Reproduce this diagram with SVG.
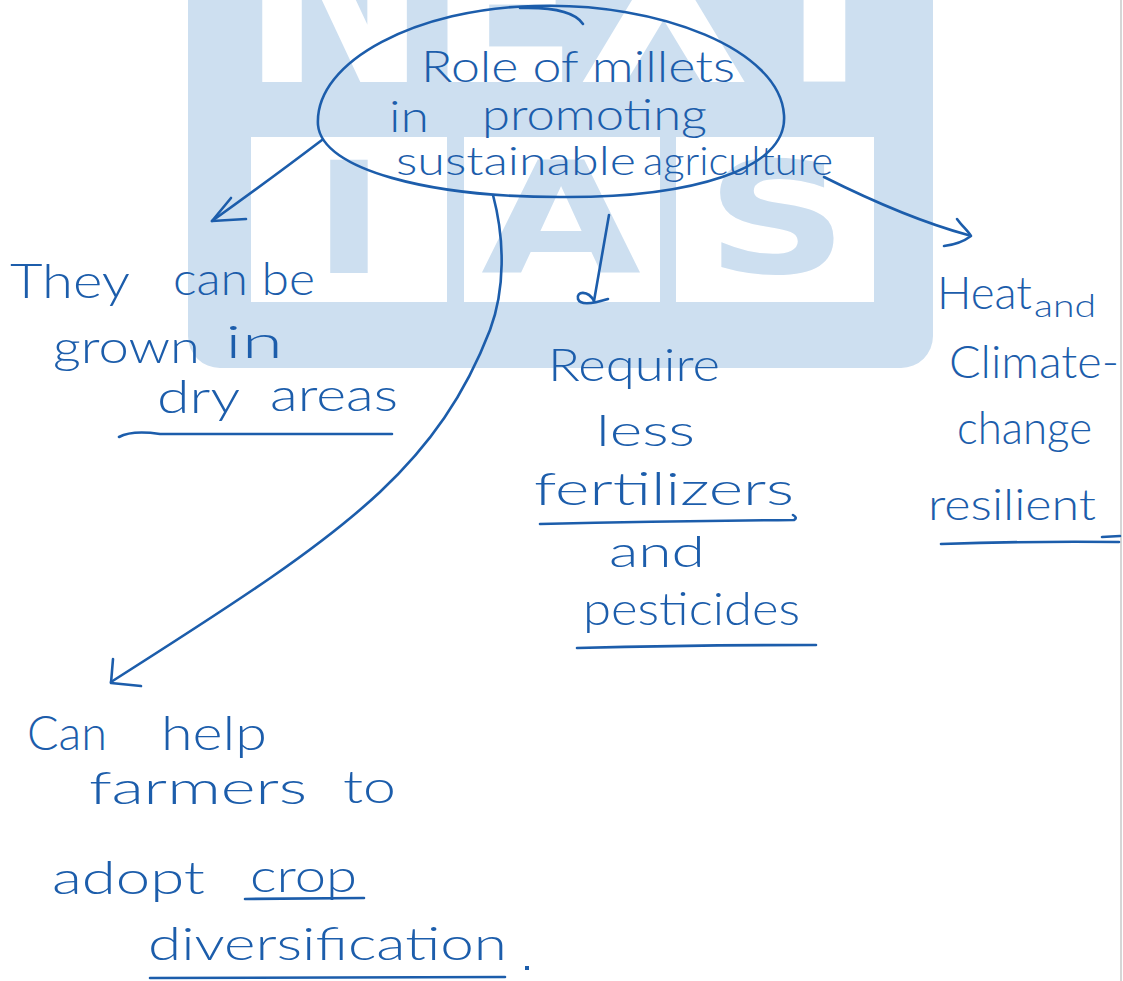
<svg xmlns="http://www.w3.org/2000/svg" width="1123" height="981" viewBox="0 0 1123 981">
  <style>
    .ink { fill: #1c5dab; font-family: Lato, "Open Sans", "Liberation Sans", sans-serif; font-weight: 300; }
    .pen { fill: none; stroke: #1c5dab; stroke-width: 2.6; stroke-linecap: round; stroke-linejoin: round; }
    .wm-white { fill: #ffffff; font-family: "DejaVu Sans", sans-serif; font-weight: bold; }
    .wm-blue { fill: #cddff0; font-family: "DejaVu Sans", sans-serif; font-weight: bold; }
  </style>

  <rect x="0" y="0" width="1123" height="981" fill="#ffffff"/>
  <line x1="1121" y1="0" x2="1121" y2="981" stroke="#c9c9c9" stroke-width="1.5"/>

  <!-- background logo -->
  <g id="watermark">
    <rect x="188" y="-40" width="745" height="408" rx="32" fill="#cddff0"/>
    <text class="wm-white" x="242" y="82" font-size="250" textLength="658" lengthAdjust="spacingAndGlyphs">NEXT</text>
    <rect x="251" y="137" width="196" height="165" fill="#ffffff"/>
    <rect x="464" y="137" width="196" height="165" fill="#ffffff"/>
    <rect x="676" y="137" width="198" height="165" fill="#ffffff"/>
    <text class="wm-blue" x="312" y="273" font-size="155" textLength="74" lengthAdjust="spacingAndGlyphs">I</text>
    <text class="wm-blue" x="481" y="273" font-size="155" textLength="160" lengthAdjust="spacingAndGlyphs">A</text>
    <text class="wm-blue" x="706" y="273" font-size="155" textLength="142" lengthAdjust="spacingAndGlyphs">S</text>
  </g>

  <!-- connectors -->
  <g id="connectors">
    <path class="pen" d="M322,140 Q272,178 212,221"/>
    <path class="pen" d="M231,198 L212,221 L246,219"/>
    <path class="pen" d="M493,195 C505,240 505,290 490,330 C465,395 430,445 380,492 C320,548 240,600 111,682"/>
    <path class="pen" d="M113,659 L111,683 L141,686"/>
    <path class="pen" d="M609,215 L594,301"/>
    <path class="pen" d="M594,301 C588,290 576,291 578,299 C580,305 592,304 608,299"/>
    <path class="pen" d="M824,177 C870,200 920,222 968,235"/>
    <path class="pen" d="M957,219 C962,226 968,231 971,236 C963,242 953,245 944,246"/>
  </g>

  <!-- central topic -->
  <g id="node-center">
    <path class="pen" d="M535,6 C660,2 780,50 784,115 C788,170 690,198 560,197 C430,197 322,170 318,125 C314,60 420,8 535,6 Z"/>
    <path class="pen" d="M520,8 C552,7 575,12 583,24"/>
    <text class="ink" x="421" y="82" font-size="44" textLength="314" lengthAdjust="spacingAndGlyphs">Role of millets</text>
    <text class="ink" x="389" y="132" font-size="44" textLength="40" lengthAdjust="spacingAndGlyphs">in</text>
    <text class="ink" x="482" y="130" font-size="44" textLength="225" lengthAdjust="spacingAndGlyphs">promoting</text>
    <text class="ink" x="396" y="175" font-size="40" textLength="240" lengthAdjust="spacingAndGlyphs">sustainable</text>
    <text class="ink" x="643" y="175" font-size="40" textLength="190" lengthAdjust="spacingAndGlyphs">agriculture</text>
  </g>

  <!-- dry areas -->
  <g id="node-dry-areas">
    <text class="ink" x="10" y="298" font-size="48" textLength="120" lengthAdjust="spacingAndGlyphs">They</text>
    <text class="ink" x="173" y="295" font-size="46" textLength="142" lengthAdjust="spacingAndGlyphs">can be</text>
    <text class="ink" x="53" y="363" font-size="46" textLength="147" lengthAdjust="spacingAndGlyphs">grown</text>
    <text class="ink" x="225" y="358" font-size="46" textLength="58" lengthAdjust="spacingAndGlyphs">in</text>
    <text class="ink" x="157" y="413" font-size="46" textLength="83" lengthAdjust="spacingAndGlyphs">dry</text>
    <text class="ink" x="270" y="411" font-size="46" textLength="128" lengthAdjust="spacingAndGlyphs">areas</text>
    <path class="pen" d="M119,437 Q132,430 160,434 L392,434"/>
  </g>

  <!-- fertilizers and pesticides -->
  <g id="node-inputs">
    <text class="ink" x="548" y="381" font-size="46" textLength="172" lengthAdjust="spacingAndGlyphs">Require</text>
    <text class="ink" x="596" y="446" font-size="44" textLength="99" lengthAdjust="spacingAndGlyphs">less</text>
    <text class="ink" x="534" y="505" font-size="46" textLength="260" lengthAdjust="spacingAndGlyphs">fertilizers</text>
    <path class="pen" d="M540,524 Q665,521 794,520 Q798,518 793,515"/>
    <text class="ink" x="609" y="567" font-size="44" textLength="96" lengthAdjust="spacingAndGlyphs">and</text>
    <text class="ink" x="583" y="625" font-size="46" textLength="217" lengthAdjust="spacingAndGlyphs">pesticides</text>
    <path class="pen" d="M577,648 Q700,645 816,645"/>
  </g>

  <!-- climate resilience -->
  <g id="node-climate">
    <text class="ink" x="937" y="309" font-size="46" textLength="95" lengthAdjust="spacingAndGlyphs">Heat</text>
    <text class="ink" x="1034" y="317" font-size="32" textLength="62" lengthAdjust="spacingAndGlyphs">and</text>
    <text class="ink" x="949" y="378" font-size="46" textLength="170" lengthAdjust="spacingAndGlyphs">Climate-</text>
    <text class="ink" x="957" y="444" font-size="46" textLength="135" lengthAdjust="spacingAndGlyphs">change</text>
    <text class="ink" x="928" y="520" font-size="44" textLength="168" lengthAdjust="spacingAndGlyphs">resilient</text>
    <path class="pen" d="M941,544 Q1030,541 1119,542"/>
    <path class="pen" d="M1102,537 L1120,536"/>
  </g>

  <!-- crop diversification -->
  <g id="node-diversification">
    <text class="ink" x="27" y="750" font-size="48" textLength="80" lengthAdjust="spacingAndGlyphs">Can</text>
    <text class="ink" x="161" y="750" font-size="48" textLength="106" lengthAdjust="spacingAndGlyphs">help</text>
    <text class="ink" x="89" y="804" font-size="46" textLength="218" lengthAdjust="spacingAndGlyphs">farmers</text>
    <text class="ink" x="343" y="803" font-size="46" textLength="53" lengthAdjust="spacingAndGlyphs">to</text>
    <text class="ink" x="52" y="894" font-size="46" textLength="153" lengthAdjust="spacingAndGlyphs">adopt</text>
    <text class="ink" x="250" y="892" font-size="46" textLength="107" lengthAdjust="spacingAndGlyphs">crop</text>
    <path class="pen" d="M245,899 L364,898"/>
    <text class="ink" x="148" y="960" font-size="46" textLength="359" lengthAdjust="spacingAndGlyphs">diversification</text>
    <rect x="525" y="966" width="4" height="4" fill="#1c5dab"/>
    <path class="pen" d="M150,978 L505,977"/>
  </g>
</svg>
